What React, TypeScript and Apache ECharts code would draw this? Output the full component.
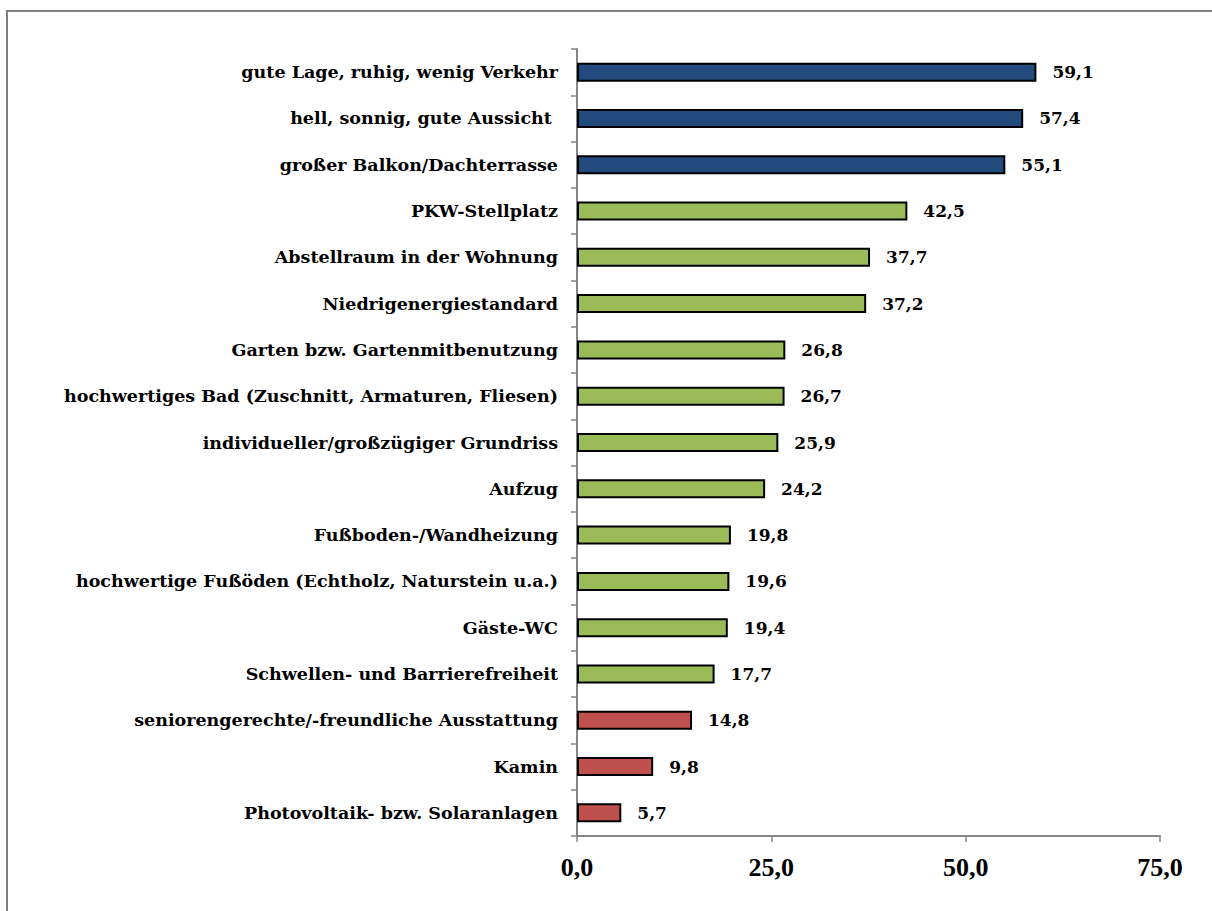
import React, { useEffect, useRef } from "react";
import * as echarts from "echarts";

const categories = [
  "gute Lage, ruhig, wenig Verkehr",
  "hell, sonnig, gute Aussicht ",
  "großer Balkon/Dachterrasse",
  "PKW-Stellplatz",
  "Abstellraum in der Wohnung",
  "Niedrigenergiestandard",
  "Garten bzw. Gartenmitbenutzung",
  "hochwertiges Bad (Zuschnitt, Armaturen, Fliesen)",
  "individueller/großzügiger Grundriss",
  "Aufzug",
  "Fußboden-/Wandheizung",
  "hochwertige Fußöden (Echtholz, Naturstein u.a.)",
  "Gäste-WC",
  "Schwellen- und Barrierefreiheit",
  "seniorengerechte/-freundliche Ausstattung",
  "Kamin",
  "Photovoltaik- bzw. Solaranlagen",
];
const values = [59.1, 57.4, 55.1, 42.5, 37.7, 37.2, 26.8, 26.7, 25.9, 24.2, 19.8, 19.6, 19.4, 17.7, 14.8, 9.8, 5.7];
const groups = ["blue", "blue", "blue", "green", "green", "green", "green", "green", "green", "green", "green", "green", "green", "green", "red", "red", "red"];
const groupColors: Record<string, string> = { blue: "#234A7C", green: "#9BBB59", red: "#C0504D" };
const xTicks = [0, 25, 50, 75];

const fmt = (v: number) => v.toFixed(1).replace(".", ",");

export default function App() {
  const ref = useRef<HTMLDivElement>(null);
  useEffect(() => {
    if (!ref.current) return;
    const chart = echarts.init(ref.current, null, { renderer: "svg" });
    const font = "'DejaVu Serif', serif";
    chart.setOption({
      animation: false,
      backgroundColor: "#ffffff",
      graphic: [
        {
          type: "rect",
          shape: { x: 7, y: 11, width: 1220, height: 920 },
          style: { fill: "none", stroke: "#7f7f7f", lineWidth: 2 },
          silent: true,
        },
      ],
      grid: { left: 577, right: 52, top: 49, bottom: 75, containLabel: false },
      xAxis: {
        type: "value",
        min: xTicks[0],
        max: xTicks[xTicks.length - 1],
        interval: 25,
        axisLine: { show: true, lineStyle: { color: "#868686", width: 2 } },
        axisTick: { show: true, length: 6, lineStyle: { color: "#868686", width: 1.5 } },
        splitLine: { show: false },
        axisLabel: {
          formatter: (v: number) => fmt(v),
          fontFamily: "'Liberation Serif', serif",
          fontWeight: "bold",
          fontSize: 26,
          color: "#000",
          margin: 18,
        },
      },
      yAxis: {
        type: "category",
        inverse: true,
        data: categories,
        axisLine: { show: true, lineStyle: { color: "#868686", width: 2 } },
        axisTick: { show: true, length: 6, lineStyle: { color: "#868686", width: 1.5 } },
        axisLabel: {
          fontFamily: font,
          fontWeight: "bold",
          fontSize: 17.5,
          color: "#000",
          margin: 19,
        },
      },
      series: [
        {
          type: "bar",
          barWidth: 19,
          data: values.map((v, i) => ({
            value: v,
            itemStyle: { color: groupColors[groups[i]], borderColor: "#000", borderWidth: 2 },
          })),
          label: {
            show: true,
            position: "right",
            distance: 16,
            formatter: (p: any) => fmt(p.value),
            fontFamily: font,
            fontWeight: "bold",
            fontSize: 17,
            color: "#000",
          },
        },
      ],
    });
    return () => chart.dispose();
  }, []);
  return <div ref={ref} style={{ position: "fixed", left: 0, top: 0, width: 1212, height: 911 }} />;
}
